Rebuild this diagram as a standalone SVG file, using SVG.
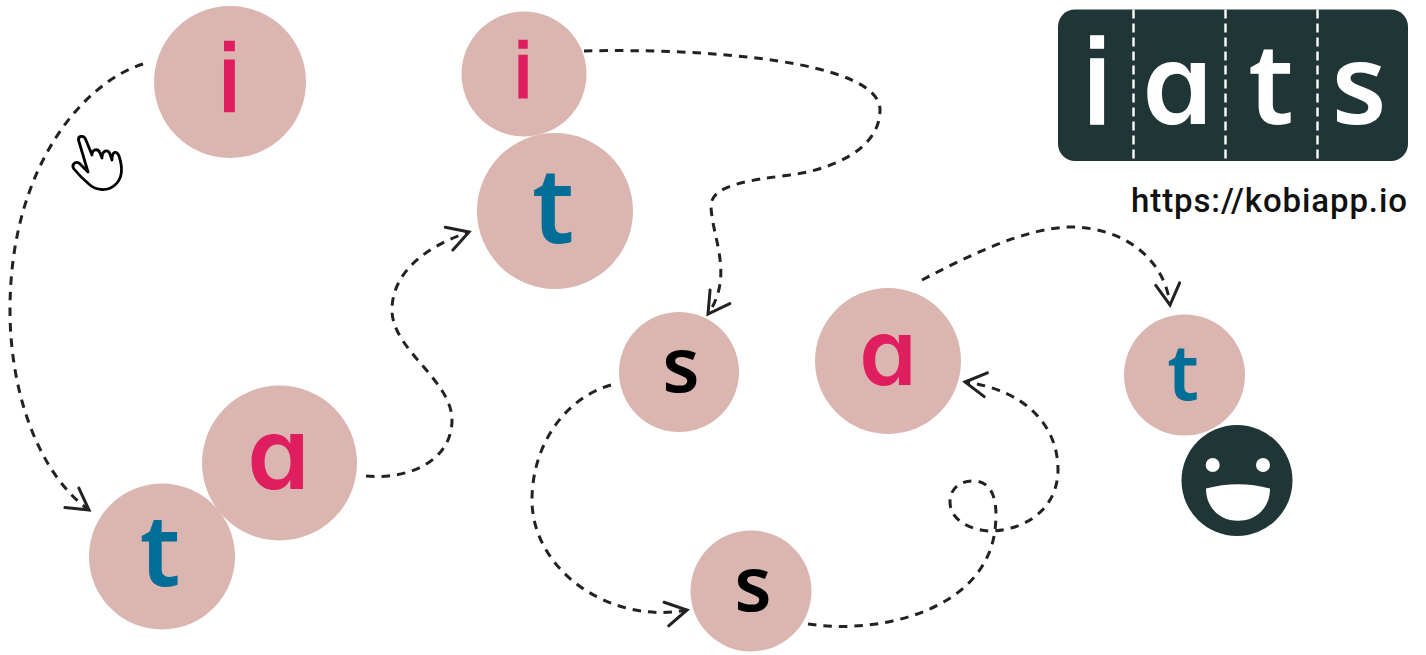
<svg xmlns="http://www.w3.org/2000/svg" width="1426" height="655" viewBox="0 0 1426 655">
<style>
.c{fill:#DBB6B0}
.l{font-family:"Noto Sans",sans-serif;font-weight:560;text-anchor:middle}
.s{font-weight:600}
.i{font-family:"Liberation Sans",Arial,sans-serif;font-weight:400}
.a{font-family:"Inter","Noto Sans",sans-serif;font-weight:600;font-feature-settings:"cv11" 1}
.p{fill:#DF1E5F;stroke:#DF1E5F;stroke-width:0}.b{fill:#006E96}.k{fill:#000}.w{fill:#fff;stroke:#fff;stroke-width:0}
.i.p{stroke-width:2.600}
.i.w{stroke-width:3.600}
.e{fill:none;stroke:#222;stroke-width:3;stroke-dasharray:8.500 7}
.h{fill:none;stroke:#222;stroke-width:3;stroke-linecap:round;stroke-linejoin:miter}
</style>
<defs>
<marker id="ah" markerUnits="userSpaceOnUse" orient="auto" markerWidth="30" markerHeight="30" refX="25" refY="15" overflow="visible"><path class="h" d="M4 3L25 15L4 27"/></marker>
</defs>
<g id="connectors">
<path class="e" marker-end="url(#ah)" d="M143 64C85 82 10 165 10 310C10 395 40 475 89 510"/>
<path class="e" marker-end="url(#ah)" d="M366 476C410 480 452 460 452 420C452 380 392 350 392 310C392 270 430 245 469 232"/>
<path class="e" marker-end="url(#ah)" d="M584 51C700 48 880 60 880 110C880 150 830 170 790 175C750 180 712 185 711 205C711 235 735 275 708 314"/>
<path class="e" marker-end="url(#ah)" d="M611 385C565 398 532 445 532 500C532 570 610 625 687 610"/>
<path class="e" marker-end="url(#ah)" d="M808 624C880 635 985 610 995 530C998 505 995 481 973 481C958 481 950 490 950 502C950 520 970 530 990 531C1030 530 1058 505 1058 470C1058 425 1025 390 965 382"/>
<path class="e" marker-end="url(#ah)" d="M922 280C970 255 1025 228 1070 227C1125 227 1165 260 1170 305"/>
</g>
<g id="node-i1"><circle class="c" cx="230" cy="82" r="76"/><text class="l i p" x="229.500" y="111" font-size="94">i</text></g>
<g id="node-a1"><circle class="c" cx="279.500" cy="463" r="77.500"/><text class="l a p" x="278.500" y="489" font-size="100">a</text></g>
<g id="node-t1"><circle class="c" cx="162" cy="556.500" r="73"/><text class="l b" x="160" y="586" font-size="100">t</text></g>
<g id="node-i2"><circle class="c" cx="524" cy="74" r="62.500"/><text class="l i p" x="523" y="98" font-size="77">i</text></g>
<g id="node-t2"><circle class="c" cx="555" cy="211" r="78"/><text class="l b" x="553" y="243" font-size="104">t</text></g>
<g id="node-s1"><circle class="c" cx="679" cy="372" r="60"/><text class="l s k" x="681" y="392" font-size="76">s</text></g>
<g id="node-a2"><circle class="c" cx="888" cy="361" r="73"/><text class="l a p" x="888" y="385" font-size="92">a</text></g>
<g id="node-t3"><circle class="c" cx="1184.500" cy="375" r="60.500"/><text class="l b" x="1183" y="400" font-size="78">t</text></g>
<g id="node-s2"><circle class="c" cx="751" cy="591" r="60.500"/><text class="l s k" x="753" y="611" font-size="76">s</text></g>
<g id="logo">
<rect x="1058" y="9.500" width="350" height="151.500" rx="17" fill="#203535"/>
<text class="l i w" x="1097" y="122.500" font-size="118">i</text>
<text class="l a w" x="1177.500" y="124" font-size="112">a</text>
<text class="l w" x="1271" y="124" font-size="112">t</text>
<text class="l w" x="1359" y="124" font-size="112">s</text>
<path d="M1133.500 9.500V161M1225.500 9.500V161M1317.500 9.500V161" fill="none" stroke="#fff" stroke-width="2.400" stroke-dasharray="9 5"/>
</g>
<text id="url" x="1131" y="212" font-family="Roboto,'Noto Sans',sans-serif" font-size="33" font-weight="500" fill="#111" textLength="276" lengthAdjust="spacing">https://kobiapp.io</text>
<g id="hand"><path d="M78.500 140C78 136 83.500 135 85.500 139L92 155C92 149 98 148 100 153L102 158C102 150 108 149 110 154L112 160C112 150 117 151 119 156C123 168 123 178 115 185C107 192 96 190 90 185C84 180 78 174 74 169C71 165 75 161 79 163L88 172Z" fill="#fff" stroke="#000" stroke-width="2.800" stroke-linejoin="round"/></g>
<g id="smiley"><circle cx="1237" cy="480.500" r="55.500" fill="#203535"/><circle cx="1212.700" cy="465" r="7" fill="#fff"/><circle cx="1263" cy="465" r="7" fill="#fff"/><path d="M1206 488.500Q1238 480 1270 488.500C1270 508 1256 520.800 1238 520.800C1220 520.800 1206 508 1206 488.500Z" fill="#fff"/></g>
</svg>
